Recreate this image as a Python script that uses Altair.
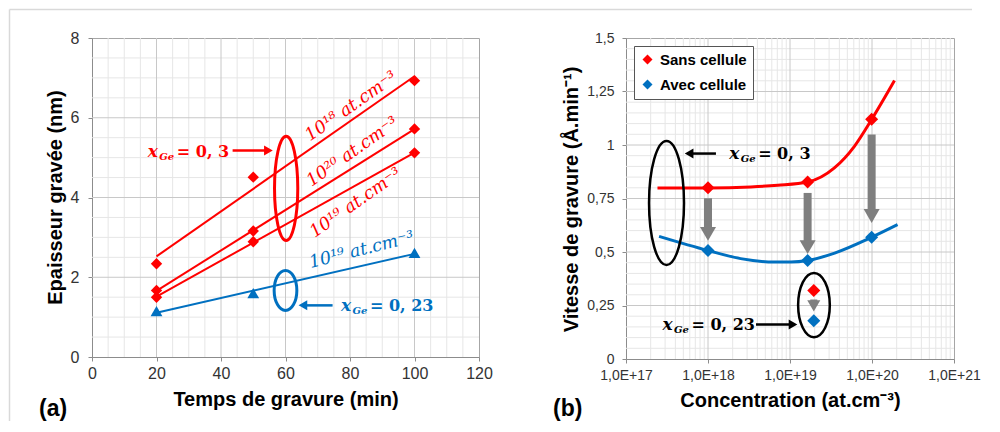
import altair as alt
import pandas as pd

RED = "#ff0000"
BLUE = "#0070c0"
BLACK = "#000000"
ARROW_GREY = "#7f7f7f"
GRID_MAJOR = "#c8c8c8"
GRID_MINOR = "#e6e6e6"
AXIS_GREY = "#8c8c8c"
FRAME_GREY = "#d9d9d9"
SANS = "Liberation Sans"
SERIF = "DejaVu Serif"

# ================= data : panel (a) =================
TIME_MIN = [20, 50, 100]
ETCH_1E18 = [2.34, 4.51, 6.93]
ETCH_1E20 = [1.67, 3.16, 5.72]
ETCH_1E19 = [1.50, 2.89, 5.12]
ETCH_X023 = [1.15, 1.60, 2.61]
SERIES_A = ["1e18", "1e20", "1e19", "x023"]

A_X_TICKS = [0, 20, 40, 60, 80, 100, 120]
A_Y_TICKS = [0, 2, 4, 6, 8]
A_X_MAJOR = [20, 40, 60, 80, 100]
A_Y_MAJOR = [2, 4, 6]
A_X_MINOR = [v for v in range(5, 120, 5) if v % 20]
A_Y_MINOR = [v / 2 for v in range(1, 16) if v % 4]
A_Y_TITLE = ["Epaisseur gravée (nm)"]

A_RED_LABELS = ["10¹⁸ at.cm⁻³", "10²⁰ at.cm⁻³", "10¹⁹ at.cm⁻³"]
A_RED_LABEL_T = [80.4, 80.8, 81.8]
A_RED_LABEL_E = [6.28, 5.14, 3.86]
A_BLUE_LABELS = ["10¹⁹ at.cm⁻³"]
A_BLUE_LABEL_T = [83.6]
A_BLUE_LABEL_E = [2.68]

XGE_SYMBOL = "x"
XGE_SUB = "Ge"
XGE_VALUES = ["= 0, 3", "= 0, 23"]
A_XGE_T = [17.3, 77.2]
A_XGE_E = [5.14, 1.28]

A_ELL_T = [60.2, 60.0]
A_ELL_E = [4.23, 1.67]

A_ARROW_T0 = [43.6, 74.6]
A_ARROW_T1 = [56.5, 63.6]
A_ARROW_E = [5.18, 1.295]

PANEL_LABELS = ["(a)", "(b)"]

# ================= data : panel (b) =================
CONC = [1.0e18, 1.64e19, 9.9e19]
RATE_SANS = [0.80, 0.827, 1.12]
RATE_AVEC = [0.507, 0.46, 0.569]
LEGEND_LABELS = ["Sans cellule", "Avec cellule"]
CONC_X023 = [1.95e19]
RATE_SANS_X023 = [0.32]
RATE_AVEC_X023 = [0.179]

FIT_SANS_CONC = [2.42e17, 1.0e18, 3.34e18, 7.1e18, 1.64e19, 3.48e19, 6.1e19, 9.9e19, 1.88e20]
FIT_SANS_RATE = [0.799, 0.799, 0.804, 0.812, 0.827, 0.893, 0.994, 1.119, 1.301]
FIT_AVEC_CONC = [2.53e17, 1.0e18, 2.5e18, 6.4e18, 1.03e19, 1.64e19, 3.5e19, 9.9e19, 2.05e20]
FIT_AVEC_RATE = [0.573, 0.507, 0.469, 0.453, 0.453, 0.46, 0.495, 0.569, 0.628]

B_ARROW_CONC = [1.0e18, 1.64e19, 9.9e19]
B_ARROW_TOP = [0.751, 0.776, 1.049]
B_ARROW_TIP = [0.542, 0.48, 0.625]
B_SMALL_ARROW_CONC = [1.95e19]
B_SMALL_ARROW_TOP = [0.278]
B_SMALL_ARROW_TIP = [0.213]

B_X_TICKS = [1e17, 1e18, 1e19, 1e20, 1e21]
B_Y_TICKS = [0, 0.25, 0.5, 0.75, 1.0, 1.25, 1.5]
B_X_MAJOR = [1e18, 1e19, 1e20]
B_Y_MAJOR = [0.25, 0.5, 0.75, 1.0, 1.25]
B_X_MINOR = [m * 10.0 ** k for k in range(17, 21) for m in range(2, 10)]
B_Y_MINOR = [round(i * 0.05, 2) for i in range(1, 30) if i % 5]

B_ELL_CONC = [3.12e17, 1.96e19]
B_ELL_RATE = [0.729, 0.252]

B_XGE_CONC = [1.81e18, 2.78e17]
B_XGE_RATE = [0.957, 0.157]
B_ARROW_X0 = [1.25e18, 3.85e18]
B_ARROW_X1 = [5.0e17, 1.28e19]
B_ARROW_Y = [0.96, 0.161]


def ellipse_path(rx):
    return f"M{-rx},0 A{rx} 1 0 1 0 {rx},0 A{rx} 1 0 1 0 {-rx},0 Z"


common_axis = dict(grid=False, domainColor=AXIS_GREY, tickColor=AXIS_GREY, tickSize=4,
                   labelColor="#333333", labelFont=SANS, titleFont=SANS, titleFontSize=20,
                   titleFontWeight="bold", titleColor="black", labelFlush=False)

axis_xa = alt.Axis(values=A_X_TICKS, title="Temps de gravure (min)", labelFontSize=16,
                   labelPadding=4, titleX=193.5, titleY=42, titleBaseline="middle",
                   titleAlign="center", **common_axis)
axis_ya = alt.Axis(values=A_Y_TICKS, title=None, labelFontSize=16, labelPadding=9, **common_axis)
axis_xb = alt.Axis(values=B_X_TICKS, title="Concentration  (at.cm⁻³)", labelFontSize=14,
                   labelPadding=5, titleX=164, titleY=41, titleBaseline="middle",
                   titleAlign="center",
                   labelExpr="'1,0E+' + format(round(log(datum.value)/LN10), 'd')",
                   **common_axis)
axis_yb = alt.Axis(values=B_Y_TICKS, title="Vitesse de gravure (Å.min⁻¹)", labelFontSize=14,
                   labelPadding=8, titleX=-55, titleY=161, titleAngle=270,
                   titleBaseline="middle", titleAlign="center",
                   labelExpr="replace(format(datum.value, '~g'), '.', ',')", **common_axis)


# ---------------- encodings (same axis in every layer so they merge) ----------------
def XA(f):
    return alt.X(f"{f}:Q", scale=alt.Scale(domain=[0, 120], nice=False, zero=False), axis=axis_xa)


def YA(f):
    return alt.Y(f"{f}:Q", scale=alt.Scale(domain=[0, 8], nice=False, zero=False), axis=axis_ya)


def XB(f):
    return alt.X(f"{f}:Q", scale=alt.Scale(type="log", domain=[1e17, 1e21], nice=False), axis=axis_xb)


def YB(f):
    return alt.Y(f"{f}:Q", scale=alt.Scale(domain=[0, 1.5], nice=False, zero=False), axis=axis_yb)


# ================= panel (a) =================
rows = []
for s, vals in zip(SERIES_A, [ETCH_1E18, ETCH_1E20, ETCH_1E19, ETCH_X023]):
    for t, e in zip(TIME_MIN, vals):
        rows.append({"serie": s, "t": t, "e": e})
df_a = pd.DataFrame(rows)
df_a_red = df_a[df_a.serie != "x023"]
df_a_blue = df_a[df_a.serie == "x023"]

# light figure frame (top and left edges)
frame_df = pd.DataFrame({"k": [0]})
frame_top = alt.Chart(frame_df).mark_rule(color=FRAME_GREY, strokeWidth=1.5).encode(
    x=alt.value(-82.5), x2=alt.value(880), y=alt.value(-28.5))
frame_left = alt.Chart(frame_df).mark_rule(color=FRAME_GREY, strokeWidth=1.5).encode(
    x=alt.value(-82.5), y=alt.value(-28.5), y2=alt.value(383))

a_minor_v = alt.Chart(pd.DataFrame({"t": A_X_MINOR})).mark_rule(color=GRID_MINOR).encode(x=XA("t"))
a_minor_h = alt.Chart(pd.DataFrame({"e": A_Y_MINOR})).mark_rule(color=GRID_MINOR).encode(y=YA("e"))
a_major_v = alt.Chart(pd.DataFrame({"t": A_X_MAJOR})).mark_rule(color=GRID_MAJOR).encode(x=XA("t"))
a_major_h = alt.Chart(pd.DataFrame({"e": A_Y_MAJOR})).mark_rule(color=GRID_MAJOR).encode(y=YA("e"))

a_lines_red = alt.Chart(df_a_red).transform_regression(
    "t", "e", groupby=["serie"], extent=[20, 100]
).mark_line(color=RED, strokeWidth=2).encode(x=XA("t"), y=YA("e"), detail="serie:N")
a_lines_blue = alt.Chart(df_a_blue).transform_regression(
    "t", "e", extent=[20, 100]
).mark_line(color=BLUE, strokeWidth=2).encode(x=XA("t"), y=YA("e"))

a_pts_red = alt.Chart(df_a_red).mark_point(shape="diamond", filled=True, size=130, color=RED,
                                           opacity=1).encode(x=XA("t"), y=YA("e"))
a_pts_blue = alt.Chart(df_a_blue).mark_point(shape="triangle-up", filled=True, size=140, color=BLUE,
                                             opacity=1).encode(x=XA("t"), y=YA("e"))

a_ell_red = alt.Chart(pd.DataFrame({"t": A_ELL_T[:1], "e": A_ELL_E[:1]})).mark_point(
    shape=ellipse_path(0.223), size=104.3 ** 2, filled=False, strokeWidth=3, color=RED, opacity=1
).encode(x=XA("t"), y=YA("e"))
a_ell_blue = alt.Chart(pd.DataFrame({"t": A_ELL_T[1:], "e": A_ELL_E[1:]})).mark_point(
    shape=ellipse_path(0.5675), size=40 ** 2, filled=False, strokeWidth=3, color=BLUE, opacity=1
).encode(x=XA("t"), y=YA("e"))

df_arr_a = pd.DataFrame({"t0": A_ARROW_T0, "t1": A_ARROW_T1, "e": A_ARROW_E})
a_arr_red = alt.Chart(df_arr_a.iloc[:1]).mark_rule(color=RED, strokeWidth=2.5, x2Offset=-7).encode(
    x=XA("t0"), x2="t1:Q", y=YA("e"))
a_arr_red_head = alt.Chart(df_arr_a.iloc[:1]).mark_point(
    shape="triangle-right", filled=True, size=100, color=RED, opacity=1, xOffset=-5.8
).encode(x=XA("t1"), y=YA("e"))
a_arr_blue = alt.Chart(df_arr_a.iloc[1:]).mark_rule(color=BLUE, strokeWidth=2.5, x2Offset=7).encode(
    x=XA("t0"), x2="t1:Q", y=YA("e"))
a_arr_blue_head = alt.Chart(df_arr_a.iloc[1:]).mark_point(
    shape="triangle-left", filled=True, size=100, color=BLUE, opacity=1, xOffset=5.8
).encode(x=XA("t1"), y=YA("e"))

a_lab_red = alt.Chart(pd.DataFrame({"t": A_RED_LABEL_T, "e": A_RED_LABEL_E, "lab": A_RED_LABELS})).mark_text(
    angle=325, font=SERIF, fontStyle="italic", fontSize=17.5, color=RED
).encode(x=XA("t"), y=YA("e"), text="lab:N")
a_lab_blue = alt.Chart(pd.DataFrame({"t": A_BLUE_LABEL_T, "e": A_BLUE_LABEL_E, "lab": A_BLUE_LABELS})).mark_text(
    angle=346, font=SERIF, fontStyle="italic", fontSize=17.5, color=BLUE
).encode(x=XA("t"), y=YA("e"), text="lab:N")


def xge_layers(df, xenc, yenc, color):
    base = alt.Chart(df)
    sym = base.mark_text(align="left", baseline="middle", font=SERIF, fontStyle="italic",
                         fontWeight="bold", fontSize=17, color=color).encode(
        x=xenc, y=yenc, text="sym:N")
    sub = base.mark_text(align="left", baseline="middle", font=SERIF, fontStyle="italic",
                         fontWeight="bold", fontSize=10, color=color, dx=11.5, dy=5).encode(
        x=xenc, y=yenc, text="sub:N")
    val = base.mark_text(align="left", baseline="middle", font=SERIF, fontWeight="bold",
                         fontSize=16, color=color, dx=29).encode(
        x=xenc, y=yenc, text="val:N")
    return [sym, sub, val]


df_xge_a = pd.DataFrame({"t": A_XGE_T, "e": A_XGE_E, "sym": [XGE_SYMBOL] * 2,
                         "sub": [XGE_SUB] * 2, "val": XGE_VALUES})
a_xge = (xge_layers(df_xge_a.iloc[:1], XA("t"), YA("e"), RED)
         + xge_layers(df_xge_a.iloc[1:], XA("t"), YA("e"), BLUE))

a_panel_lab = alt.Chart(pd.DataFrame({"lab": PANEL_LABELS[:1]})).mark_text(
    align="left", baseline="middle", font=SANS, fontWeight="bold", fontSize=23, color="black"
).encode(x=alt.value(-53), y=alt.value(371), text="lab:N")

a_ytitle = alt.Chart(pd.DataFrame({"lab": A_Y_TITLE})).mark_text(
    align="center", baseline="middle", angle=270, font=SANS, fontWeight="bold", fontSize=20,
    color="black"
).encode(x=alt.value(-36), y=alt.value(159.5), text="lab:N")

left = alt.layer(
    a_minor_v, a_minor_h, a_major_v, a_major_h, frame_top, frame_left,
    a_lines_red, a_lines_blue, a_pts_red, a_pts_blue,
    a_ell_red, a_ell_blue, a_arr_red, a_arr_red_head, a_arr_blue, a_arr_blue_head,
    a_lab_red, a_lab_blue, *a_xge, a_panel_lab, a_ytitle
).properties(width=387, height=319)

# ================= panel (b) =================
b_minor_v = alt.Chart(pd.DataFrame({"c": B_X_MINOR})).mark_rule(color=GRID_MINOR).encode(x=XB("c"))
b_minor_h = alt.Chart(pd.DataFrame({"r": B_Y_MINOR})).mark_rule(color=GRID_MINOR).encode(y=YB("r"))
b_major_v = alt.Chart(pd.DataFrame({"c": B_X_MAJOR})).mark_rule(color=GRID_MAJOR).encode(x=XB("c"))
b_major_h = alt.Chart(pd.DataFrame({"r": B_Y_MAJOR})).mark_rule(color=GRID_MAJOR).encode(y=YB("r"))

b_fit_sans = alt.Chart(pd.DataFrame({"c": FIT_SANS_CONC, "r": FIT_SANS_RATE})).mark_line(
    color=RED, strokeWidth=3, interpolate="monotone").encode(x=XB("c"), y=YB("r"))
b_fit_avec = alt.Chart(pd.DataFrame({"c": FIT_AVEC_CONC, "r": FIT_AVEC_RATE})).mark_line(
    color=BLUE, strokeWidth=3, interpolate="monotone").encode(x=XB("c"), y=YB("r"))

df_arr_b = pd.DataFrame({"c": B_ARROW_CONC, "top": B_ARROW_TOP, "tip": B_ARROW_TIP})
b_shaft = alt.Chart(df_arr_b).mark_rule(color=ARROW_GREY, strokeWidth=8, y2Offset=-12).encode(
    x=XB("c"), y=YB("top"), y2="tip:Q")
b_head = alt.Chart(df_arr_b).mark_point(shape="triangle-down", filled=True, size=256, color=ARROW_GREY,
                                        opacity=1, yOffset=-9.2).encode(x=XB("c"), y=YB("tip"))
df_arr_small = pd.DataFrame({"c": B_SMALL_ARROW_CONC, "top": B_SMALL_ARROW_TOP, "tip": B_SMALL_ARROW_TIP})
b_shaft_s = alt.Chart(df_arr_small).mark_rule(color=ARROW_GREY, strokeWidth=7, y2Offset=-9).encode(
    x=XB("c"), y=YB("top"), y2="tip:Q")
b_head_s = alt.Chart(df_arr_small).mark_point(shape="triangle-down", filled=True, size=170,
                                              color=ARROW_GREY, opacity=1, yOffset=-7.5).encode(
    x=XB("c"), y=YB("tip"))

pts_rows = []
for c, s, a in zip(CONC + CONC_X023, RATE_SANS + RATE_SANS_X023, RATE_AVEC + RATE_AVEC_X023):
    pts_rows.append({"c": c, "r": s, "serie": LEGEND_LABELS[0]})
    pts_rows.append({"c": c, "r": a, "serie": LEGEND_LABELS[1]})
df_pts_b = pd.DataFrame(pts_rows)

legend_b = alt.Legend(orient="top-left", offset=8, title=None, padding=6, strokeColor="#555555",
                      fillColor="white", symbolType="diamond", symbolSize=100, symbolStrokeWidth=0,
                      labelFont=SANS, labelFontSize=15, labelFontWeight="bold", labelColor="black",
                      rowPadding=9, labelOffset=5, labelLimit=300)
b_pts = alt.Chart(df_pts_b).mark_point(shape="diamond", filled=True, size=170, opacity=1).encode(
    x=XB("c"), y=YB("r"),
    color=alt.Color("serie:N", scale=alt.Scale(domain=LEGEND_LABELS, range=[RED, BLUE]), legend=legend_b))

b_ell_big = alt.Chart(pd.DataFrame({"c": B_ELL_CONC[:1], "r": B_ELL_RATE[:1]})).mark_point(
    shape=ellipse_path(0.282), size=124 ** 2, filled=False, strokeWidth=2.5, color=BLACK, opacity=1
).encode(x=XB("c"), y=YB("r"))
b_ell_small = alt.Chart(pd.DataFrame({"c": B_ELL_CONC[1:], "r": B_ELL_RATE[1:]})).mark_point(
    shape=ellipse_path(0.493), size=64.3 ** 2, filled=False, strokeWidth=2.5, color=BLACK, opacity=1
).encode(x=XB("c"), y=YB("r"))

df_arr_b2 = pd.DataFrame({"x0": B_ARROW_X0, "x1": B_ARROW_X1, "y": B_ARROW_Y})
b_arr1 = alt.Chart(df_arr_b2.iloc[:1]).mark_rule(color=BLACK, strokeWidth=2.5, x2Offset=7).encode(
    x=XB("x0"), x2="x1:Q", y=YB("y"))
b_arr1_head = alt.Chart(df_arr_b2.iloc[:1]).mark_point(
    shape="triangle-left", filled=True, size=100, color=BLACK, opacity=1, xOffset=5.8
).encode(x=XB("x1"), y=YB("y"))
b_arr2 = alt.Chart(df_arr_b2.iloc[1:]).mark_rule(color=BLACK, strokeWidth=2.5, x2Offset=-7).encode(
    x=XB("x0"), x2="x1:Q", y=YB("y"))
b_arr2_head = alt.Chart(df_arr_b2.iloc[1:]).mark_point(
    shape="triangle-right", filled=True, size=100, color=BLACK, opacity=1, xOffset=-5.8
).encode(x=XB("x1"), y=YB("y"))

df_xge_b = pd.DataFrame({"c": B_XGE_CONC, "r": B_XGE_RATE, "sym": [XGE_SYMBOL] * 2,
                         "sub": [XGE_SUB] * 2, "val": XGE_VALUES})
b_xge = xge_layers(df_xge_b, XB("c"), YB("r"), BLACK)

b_panel_lab = alt.Chart(pd.DataFrame({"lab": PANEL_LABELS[1:]})).mark_text(
    align="left", baseline="middle", font=SANS, fontWeight="bold", fontSize=23, color="black"
).encode(x=alt.value(-73), y=alt.value(371), text="lab:N")

right = alt.layer(
    b_minor_v, b_minor_h, b_major_v, b_major_h,
    b_fit_sans, b_fit_avec, b_shaft, b_head, b_shaft_s, b_head_s, b_pts,
    b_ell_big, b_ell_small, b_arr1, b_arr1_head, b_arr2, b_arr2_head, *b_xge, b_panel_lab
).properties(width=328, height=321)

chart = alt.hconcat(left, right, spacing=147, bounds="flush").resolve_scale(
    color="independent").resolve_legend(color="independent").properties(
    padding={"left": 0, "top": 0, "right": 4, "bottom": 4}
).configure(font=SANS).configure_view(stroke="#a6a6a6", strokeWidth=1)

chart.save("out.html", embed_options={"renderer": "svg", "actions": False})
